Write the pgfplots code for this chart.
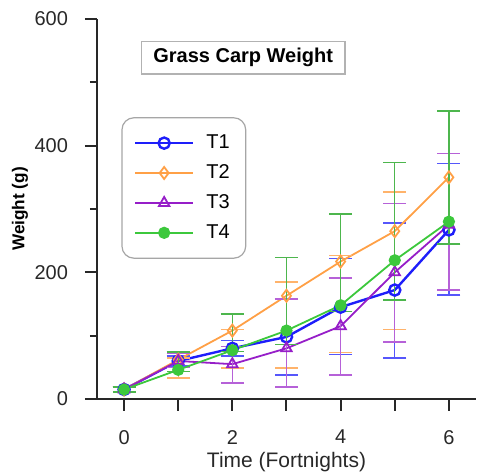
\documentclass[border=0pt]{standalone}
\usepackage{fontspec}
\setmainfont{Liberation Sans}
\usepackage{pgfplots}
\pgfplotsset{compat=1.18}

\definecolor{cT1}{RGB}{30,30,250}
\definecolor{cT2}{RGB}{255,160,70}
\definecolor{cT3}{RGB}{150,30,200}
\definecolor{cT4}{RGB}{60,200,60}
\definecolor{axgray}{RGB}{40,40,40}

\begin{document}
\begin{tikzpicture}
\begin{axis}[
  scale only axis,
  width=189.5pt, height=190pt,
  xmin=-0.5, xmax=6.5, ymin=0, ymax=600,
  axis x line*=bottom, axis y line*=left,
  axis line style={axgray, line width=1pt},
  xtick={0,...,6}, xticklabels={0,,2,,4,,6},
  ytick={0,200,400,600}, minor ytick={100,300,500},
  tick align=outside,
  major tick length=6pt, minor tick length=3.5pt,
  tick style={axgray, line width=1pt},
  /pgf/number format/assume math mode=true,
  ticklabel style={font=\fontsize{10}{12}\selectfont, text=axgray},
  xticklabel style={yshift=-6pt},
  yticklabel style={xshift=-5pt},
  xlabel={Time (Fortnights)},
  ylabel={\textbf{Weight (g)}},
  xlabel style={at={(axis description cs:0.5,0)}, anchor=center,
    yshift=-31.5pt, font=\fontsize{10.5}{12}\selectfont, text=axgray},
  ylabel style={at={(axis description cs:0,0.5)}, anchor=center,
    yshift=38.5pt, font=\fontsize{8.6}{10}\selectfont, text=black},
  legend cell align=left,
  legend style={at={(axis cs:-0.05,445)}, anchor=north west,
    draw=gray!70, rounded corners=6pt, line width=0.6pt,
    font=\fontsize{10}{12}\selectfont, row sep=2.5pt,
    inner xsep=6pt, inner ysep=6.5pt},
  legend image code/.code={
    \draw[mark repeat=2, mark phase=2] plot coordinates {(0pt,0pt) (14.5pt,0pt) (29pt,0pt)};
  },
  error bars/y dir=both, error bars/y explicit,
]

% T1
\addplot[cT1, line width=1.2pt, mark=o, mark size=2.8pt,
  error bars/error bar style={cT1!75, line width=0.7pt},
  error bars/error mark options={rotate=90, mark size=5.75pt, cT1!75, line width=0.7pt}]
  coordinates {
  (0,15) += (0,5) -= (0,5)
  (1,60) += (0,8) -= (0,8)
  (2,80) += (0,12) -= (0,12)
  (3,98) += (0,60) -= (0,60)
  (4,145) += (0,77) -= (0,75)
  (5,172) += (0,106) -= (0,107)
  (6,267) += (0,105) -= (0,103)
};
\addlegendentry{\hspace{4pt}T1}

% T2
\addplot[cT2, line width=0.9pt, mark=diamond, mark size=3pt,
  error bars/error bar style={cT2!80, line width=0.7pt},
  error bars/error mark options={rotate=90, mark size=5.75pt, cT2!80, line width=0.7pt}]
  coordinates {
  (0,15) += (0,5) -= (0,5)
  (1,62) += (0,3) -= (0,29)
  (2,108) += (0,2) -= (0,59)
  (3,163) += (0,22) -= (0,114)
  (4,217) += (0,10) -= (0,144)
  (5,265) += (0,62) -= (0,155)
  (6,350) += (0,38) -= (0,178)
};
\addlegendentry{\hspace{4pt}T2}

% T3
\addplot[cT3, line width=0.9pt, mark=triangle, mark size=3pt,
  error bars/error bar style={cT3!70, line width=0.7pt},
  error bars/error mark options={rotate=90, mark size=5.75pt, cT3!70, line width=0.7pt}]
  coordinates {
  (0,15) += (0,4) -= (0,4)
  (1,60) += (0,12) -= (0,10)
  (2,55) += (0,28) -= (0,30)
  (3,80) += (0,78) -= (0,61)
  (4,115) += (0,76) -= (0,77)
  (5,200) += (0,109) -= (0,110)
  (6,275) += (0,113) -= (0,103)
};
\addlegendentry{\hspace{4pt}T3}

% T4
\addplot[cT4, line width=0.9pt, mark=*, mark size=2.6pt,
  error bars/error bar style={cT4!75!gray, line width=0.7pt},
  error bars/error mark options={rotate=90, mark size=5.75pt, cT4!75!gray, line width=0.7pt}]
  coordinates {
  (0,15) += (0,4) -= (0,4)
  (1,46) += (0,28) -= (0,3)
  (2,77) += (0,57) -= (0,2)
  (3,108) += (0,115) -= (0,22)
  (4,148) += (0,144) -= (0,10)
  (5,219) += (0,154) -= (0,63)
  (6,280) += (0,175) -= (0,35)
};
\addlegendentry{\hspace{4pt}T4}

\node[draw=gray!60, fill=white, line width=0.6pt,
  font=\bfseries\fontsize{10}{12}\selectfont,
  inner xsep=6pt, inner ysep=3.5pt] at (axis cs:2.2,539) {Grass Carp Weight};
\end{axis}
\pgfresetboundingbox
\path (-48.5pt,-37.5pt) rectangle (190pt,199.5pt);
\end{tikzpicture}
\end{document}
